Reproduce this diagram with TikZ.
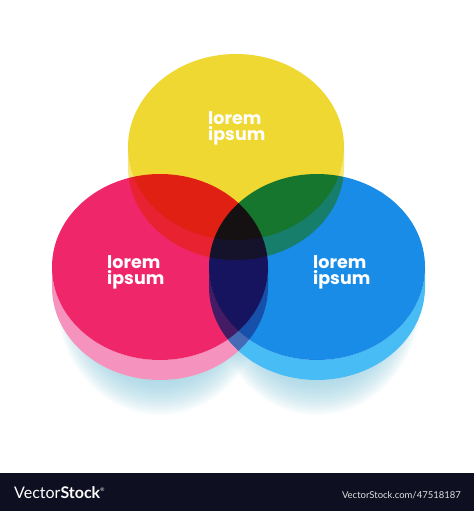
\documentclass[tikz,border=0pt]{standalone}
\usepackage{fontspec}
\setmainfont{Poppins}
\newfontfamily\stockfont{Lato}
\usepackage{tikz}

\definecolor{discyellow}{RGB}{240,216,50}
\definecolor{discyellowside}{RGB}{247,230,120}
\definecolor{discpink}{RGB}{240,38,106}
\definecolor{discpinkside}{RGB}{245,146,190}
\definecolor{discblue}{RGB}{24,140,230}
\definecolor{discblueside}{RGB}{72,188,245}
\definecolor{shadowcyan}{RGB}{140,206,226}
\definecolor{stockbar}{RGB}{15,15,34}

\tikzset{
  pics/disc/.style 2 args={code={
    \fill[#2] (-108,0) -- (-108,20)
      arc[start angle=180, end angle=0, x radius=108, y radius=93]
      -- (108,0)
      arc[start angle=0, end angle=180, x radius=108, y radius=93] -- cycle;
    \fill[#1] (0,0) ellipse[x radius=108, y radius=93];
  }},
  pics/discblank/.style={code={
    \fill[white] (-108,0) -- (-108,20)
      arc[start angle=180, end angle=0, x radius=108, y radius=93]
      -- (108,0) -- cycle;
    \fill[white] (0,0) ellipse[x radius=108, y radius=93];
  }},
  pics/discshadow/.style={code={
    \foreach \k in {0,...,19}
      \fill[shadowcyan, opacity=.055] (0,30) ellipse[x radius=104-1.5*\k, y radius=118-2*\k];
  }},
  lorem/.style={text=white, font=\fontsize{17.5}{16.5}\selectfont\bfseries,
    align=left, inner sep=0pt, anchor=north west}
}

\begin{document}
\begin{tikzpicture}[x=1pt, y=-1pt]
\useasboundingbox (0,0) rectangle (474,511);
\fill[white] (0,0) rectangle (474,511);

% soft shadows under the two lower discs
\pic at (160,267) {discshadow};
\pic at (317,267) {discshadow};

% white underlay, so the shadow does not tint the discs
\pic at (236,147) {discblank};
\pic at (160,267) {discblank};
\pic at (317,267) {discblank};

\begin{scope}[blend mode=multiply]
\pic (yellowdisc) at (236,147) {disc={discyellow}{discyellowside}};
\pic (pinkdisc) at (160,267) {disc={discpink}{discpinkside}};
\pic (bluedisc) at (317,267) {disc={discblue}{discblueside}};
\end{scope}

\node[lorem] (yellowlabel) at (208,111) {lorem\\ipsum};
\node[lorem] (pinklabel) at (107,255) {lorem\\ipsum};
\node[lorem] (bluelabel) at (313,255) {lorem\\ipsum};

% footer bar
\fill[stockbar] (0,473) rectangle (474,511);
\node[anchor=base west, inner sep=0pt, text=white, font=\stockfont\fontsize{16}{16}\selectfont]
  (stocklogo) at (14,498) {Vector\textbf{Stock}\textsuperscript{\tiny\textregistered}};
\node[anchor=base east, inner sep=0pt, text=white!88!black, font=\stockfont\fontsize{9.5}{10}\selectfont]
  (stockurl) at (461,498) {VectorStock.com/47518187};
\end{tikzpicture}
\end{document}
